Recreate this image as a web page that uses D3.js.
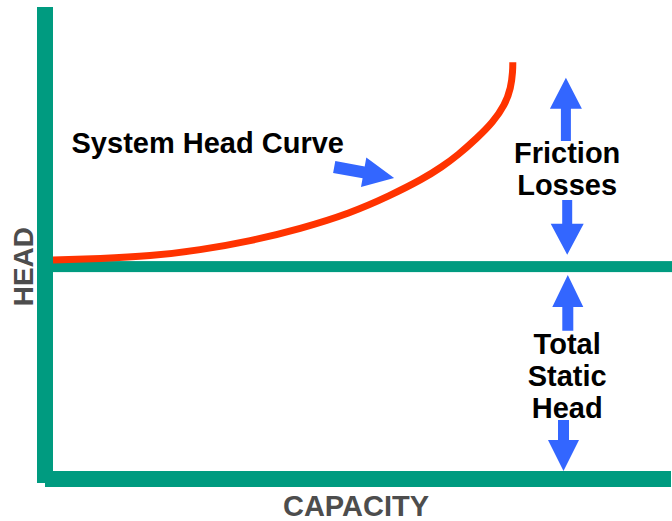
<!DOCTYPE html>
<html>
<head>
<meta charset="utf-8">
<script src="https://cdn.jsdelivr.net/npm/d3@7"></script>
<style>
  body { margin: 0; background: white; }
  text { font-family: Arial, "Liberation Sans", sans-serif; font-weight: bold; }
</style>
</head>
<body>
<svg id="canvas" width="672" height="521"></svg>
<script>
// data
var capacity = [0, 7.6, 15.7, 23.8, 31.9, 40.0, 48.1, 54.5, 59.9, 62.9, 65.5, 68.6, 71.2, 73.1, 74.1, 74.4, 74.4];
var head     = [46.4, 46.7, 47.2, 48.5, 50.4, 53.0, 56.3, 60.0, 63.6, 66.1, 68.6, 72.2, 75.6, 79.2, 82.8, 86.5, 88.3];
var staticHead = 45;
var axisLabels = ['CAPACITY', 'HEAD'];

// annotations (data coords)
var arrows = [
  { x1: 45.5, y1: 66.1, x2: 55.2, y2: 63.8, shaft: 12, hw: 30, hl: 31 },
  { x1: 83, y1: 71.6, x2: 83, y2: 85, shaft: 10, hw: 32, hl: 31 },
  { x1: 83.2, y1: 59.1, x2: 83.2, y2: 47.5, shaft: 10, hw: 33, hl: 31 },
  { x1: 83.3, y1: 31.4, x2: 83.3, y2: 43.2, shaft: 11, hw: 31, hl: 32 },
  { x1: 82.6, y1: 12.5, x2: 82.6, y2: 1.7, shaft: 11, hw: 31, hl: 31 }
];
var labels = [
  { x: 3.0, y: 69.1, lines: ['System Head Curve'], anchor: 'start' },
  { x: 83.2, y: 66.9, lines: ['Friction', 'Losses'], anchor: 'middle' },
  { x: 83.2, y: 26.5, lines: ['Total', 'Static', 'Head'], anchor: 'middle' }
];

var green = '#009b80', red = '#ff3300', blue = '#3366ff';
var svg = d3.select('#canvas');

var x = d3.scaleLinear().domain([0, 100]).range([53, 671]);
var y = d3.scaleLinear().domain([0, 100]).range([479, 7]);

// axes
svg.append('rect').attr('x', x(0) - 16).attr('y', y(100)).attr('width', 16).attr('height', y(0) + 4 - y(100)).style('fill', green);
svg.append('rect').attr('x', x(0) - 8).attr('y', y(0) - 8).attr('width', x(100) - x(0) + 8).attr('height', 16).style('fill', green);

// static head line
svg.append('rect').attr('x', x(0)).attr('y', y(staticHead) - 5.5).attr('width', 672 - x(0)).attr('height', 11).style('fill', green);

// system curve
var pts = capacity.map(function(c, i){ return [c, head[i]]; });
var line = d3.line().x(function(d){ return x(d[0]); }).y(function(d){ return y(d[1]); }).curve(d3.curveBasis);
svg.append('path').datum(pts).attr('d', line)
  .style('fill', 'none').style('stroke', red).style('stroke-width', 7);

// arrows
function arrowPath(a){
  var x1 = x(a.x1), y1 = y(a.y1), x2 = x(a.x2), y2 = y(a.y2);
  var dx = x2 - x1, dy = y2 - y1, len = Math.sqrt(dx*dx + dy*dy);
  var ux = dx/len, uy = dy/len, nx = -uy, ny = ux;
  var bx = x2 - ux*a.hl, by = y2 - uy*a.hl;
  var s = a.shaft/2, h = a.hw/2;
  var p = [
    [x1 + nx*s, y1 + ny*s], [bx + nx*s, by + ny*s], [bx + nx*h, by + ny*h],
    [x2, y2],
    [bx - nx*h, by - ny*h], [bx - nx*s, by - ny*s], [x1 - nx*s, y1 - ny*s]
  ];
  return 'M' + p.map(function(q){ return q[0].toFixed(1) + ',' + q[1].toFixed(1); }).join('L') + 'Z';
}
svg.selectAll('path.arrow').data(arrows).enter().append('path').attr('class', 'arrow')
  .attr('d', arrowPath).style('fill', blue);

// labels
labels.forEach(function(l){
  var t = svg.append('text').attr('x', x(l.x)).attr('y', y(l.y)).attr('text-anchor', l.anchor)
    .style('font-size', '29px').style('fill', '#000');
  l.lines.forEach(function(s, i){
    t.append('tspan').attr('x', x(l.x)).attr('dy', i == 0 ? 0 : '1.11em').text(s);
  });
});

// axis titles
svg.append('text').attr('x', 356).attr('y', 516).attr('text-anchor', 'middle')
  .style('font-size', '29px').style('fill', '#4d4d4d').text(axisLabels[0]);
svg.append('text').attr('transform', 'translate(33,' + y(staticHead) + ') rotate(-90)').attr('text-anchor', 'middle')
  .style('font-size', '28px').style('fill', '#4d4d4d').text(axisLabels[1]);
</script>
</body>
</html>
